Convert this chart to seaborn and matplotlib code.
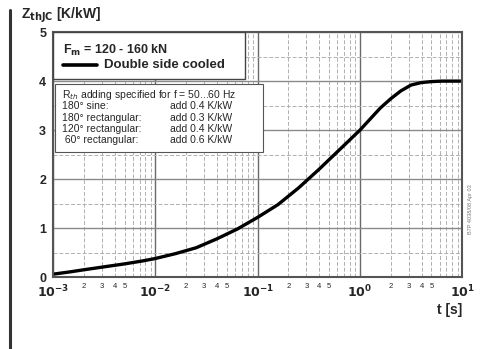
import math
import matplotlib
matplotlib.use("Agg")
import matplotlib.pyplot as plt
import matplotlib.ticker as mticker
from matplotlib.lines import Line2D
import seaborn as sns
import pandas as pd

# ---------- data ----------
t_s = [0.001, 0.0015, 0.002, 0.00316, 0.005, 0.0075, 0.01, 0.0158, 0.0251, 0.0398,
       0.0631, 0.1, 0.158, 0.251, 0.398, 0.631, 1.0, 1.58, 2.0, 2.51, 3.16,
       3.98, 5.01, 6.31, 10.0]
z_thjc = [0.06, 0.11, 0.15, 0.21, 0.27, 0.33, 0.38, 0.48, 0.60, 0.78,
          0.98, 1.22, 1.48, 1.82, 2.20, 2.60, 3.00, 3.45, 3.64, 3.80, 3.92,
          3.97, 3.99, 4.0, 4.0]

decade_labels = ["$\\mathbf{10^{-3}}$", "$\\mathbf{10^{-2}}$", "$\\mathbf{10^{-1}}$",
                 "$\\mathbf{10^{0}}$", "$\\mathbf{10^{1}}$"]
decades = [1e-3, 1e-2, 1e-1, 1, 10]
y_ticks = [0, 1, 2, 3, 4, 5]

rth_lines = ["180° sine:", "180° rectangular:", "120° rectangular:", " 60° rectangular:"]
rth_adds = ["add 0.4 K/kW", "add 0.3 K/kW", "add 0.4 K/kW", "add 0.6 K/kW"]

df = pd.DataFrame({"t": t_s, "z": z_thjc})

sns.set_style("white")
plt.rcParams["font.family"] = ["Liberation Sans", "DejaVu Sans"]

fig = plt.figure(figsize=(4.83, 3.49), dpi=100)
ax = fig.add_axes([0.110, 0.206, 0.847, 0.702])

sns.lineplot(data=df, x="t", y="z", color="black", linewidth=2.4, ax=ax)

ax.set_xscale("log")
ax.set_xlim(1e-3, 10)
ax.set_ylim(0, 5)

# grid
ax.xaxis.set_minor_locator(mticker.LogLocator(base=10, subs=range(2, 10), numticks=20))
ax.yaxis.set_minor_locator(mticker.MultipleLocator(0.5))
ax.grid(which="major", axis="x", color="#6a6a6a", linewidth=1.0)
ax.grid(which="minor", axis="x", color="#b0b0b0", linewidth=0.7, linestyle=(0, (4, 2)))
ax.grid(which="major", axis="y", color="#8a8a8a", linewidth=1.0)
ax.grid(which="minor", axis="y", color="#b0b0b0", linewidth=0.7, linestyle=(0, (4, 2)))

for s in ax.spines.values():
    s.set_color("#555555")
    s.set_linewidth(1.5)

ax.set_xticks(decades)
ax.set_xticklabels(decade_labels, fontsize=9)


def minor_fmt(v, pos):
    m = round(v / 10 ** math.floor(math.log10(v) + 1e-9))
    return str(m) if m in (2, 3, 4, 5) else ""


ax.xaxis.set_minor_formatter(mticker.FuncFormatter(minor_fmt))
ax.tick_params(axis="x", which="minor", labelsize=5.5, length=0, pad=4)
ax.tick_params(axis="x", which="major", length=0, pad=5)
ax.set_yticks(y_ticks)
ax.set_yticklabels([str(v) for v in y_ticks], fontsize=9, fontweight="bold")
ax.tick_params(axis="y", which="both", length=3, direction="out", color="#777777", pad=2)
ax.set_xlabel("")
ax.set_ylabel("")

# axis titles
fig.text(0.044, 0.955, "Z$_{\\mathbf{thJC}}$ [K/kW]", fontsize=10, fontweight="bold", va="center")
fig.text(0.957, 0.112, "t [s]", fontsize=10, fontweight="bold", ha="right", va="center")

# left bar
fig.add_artist(Line2D([0.021, 0.021], [0.0, 0.97], transform=fig.transFigure,
                      color="#333333", linewidth=2.2))

# box 1
box1 = plt.Rectangle((0.0, 0.81), 0.47, 0.19, transform=ax.transAxes, facecolor="white",
                     edgecolor="#444444", linewidth=1.0, zorder=5)
ax.add_patch(box1)
ax.text(0.024, 0.926, "F$_{\\mathbf{m}}$ = 120 - 160 kN", transform=ax.transAxes, fontsize=9,
        fontweight="bold", va="center", zorder=6)
ax.plot([0.024, 0.108], [0.866, 0.866], transform=ax.transAxes, color="black",
        linewidth=2.6, zorder=6)
ax.text(0.125, 0.866, "Double side cooled", transform=ax.transAxes, fontsize=9.5,
        fontweight="bold", va="center", zorder=6)

# box 2
box2 = plt.Rectangle((0.005, 0.51), 0.508, 0.278, transform=ax.transAxes, facecolor="white",
                     edgecolor="#555555", linewidth=0.8, zorder=5)
ax.add_patch(box2)
ax.text(0.022, 0.742, "R$_{th}$ adding specified for f = 50...60 Hz", transform=ax.transAxes,
        fontsize=7.5, va="center", zorder=6)
for i, (lab, add) in enumerate(zip(rth_lines, rth_adds)):
    yy = 0.697 - i * 0.046
    ax.text(0.022, yy, lab, transform=ax.transAxes, fontsize=7.5, va="center", zorder=6)
    ax.text(0.286, yy, add, transform=ax.transAxes, fontsize=7.5, va="center", zorder=6)

# small code at right edge
fig.text(0.975, 0.40, "B7P 4038/08 Apr 03", rotation=90, fontsize=4, color="#777777",
         ha="center", va="center")

plt.savefig("out.png", dpi=100)
